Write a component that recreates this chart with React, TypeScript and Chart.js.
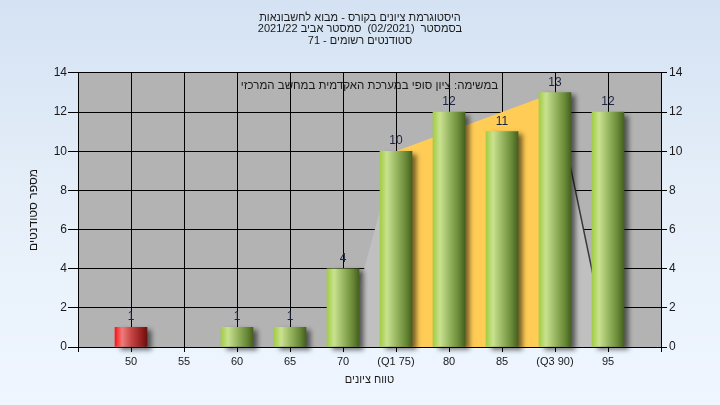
import { useEffect, useRef } from 'react';
import { Chart, registerables } from 'chart.js';

Chart.register(...registerables);

const FONT = "'Liberation Sans', Arial, sans-serif";

// categories (empty edge slots keep a half-interval margin like the original)
const categories = ['', '50', '55', '60', '65', '70', '(Q1 75)', '80', '85', '(Q3 90)', '95', ''];
const studentCounts: (number | null)[] = [null, 1, null, 1, 1, 4, 10, 12, 11, 13, 12, null];
const failingCategories = ['50'];
// spread shape: min (70) -> Q1 -> Q3 -> max (95)
const spreadShape: (number | null)[] = [null, null, null, null, null, 0, 10, null, null, 13, 0, null];
const quartileBand: (number | null)[] = [null, null, null, null, null, null, 10, null, null, 13, null, null];

const yMin = 0;
const yMax = 14;
const yStep = 2;

const titleLines = [
  'היסטוגרמת ציונים בקורס - מבוא לחשבונאות',
  'בסמסטר  (02/2021)  סמסטר אביב 2021/22',
  'סטודנטים רשומים - 71',
];
const noteText = 'במשימה: ציון סופי במערכת האקדמית במחשב המרכזי';
const yTitle = 'מספר סטודנטים';
const xTitle = 'טווח ציונים';

export default function App() {
  const ref = useRef<HTMLCanvasElement | null>(null);

  useEffect(() => {
    document.body.style.margin = '0';
    const canvas = ref.current;
    if (!canvas) return;

    const barGradient = (ctx: any) => {
      const chart = ctx.chart;
      const i = ctx.dataIndex;
      const fail = failingCategories.includes(categories[i]);
      if (!chart.chartArea) return fail ? '#e02020' : '#88b040';
      const x = chart.scales.x.getPixelForValue(i);
      const g = chart.ctx.createLinearGradient(x - 16, 0, x + 16, 0);
      if (fail) {
        g.addColorStop(0, '#ff1414');
        g.addColorStop(0.22, '#f07c7c');
        g.addColorStop(0.5, '#c84646');
        g.addColorStop(0.8, '#982222');
        g.addColorStop(1, '#6a1010');
      } else {
        g.addColorStop(0, '#a2cd44');
        g.addColorStop(0.22, '#c9e290');
        g.addColorStop(0.5, '#9ab863');
        g.addColorStop(0.8, '#6a8a38');
        g.addColorStop(1, '#45601f');
      }
      return g;
    };

    const plotBg = {
      id: 'plotBg',
      beforeDraw(chart: any) {
        const { ctx, chartArea: a } = chart;
        ctx.save();
        ctx.fillStyle = '#b3b3b3';
        ctx.fillRect(a.left, a.top, a.right - a.left, a.bottom - a.top);
        ctx.restore();
      },
    };

    const barShadow = {
      id: 'barShadow',
      beforeDatasetDraw(chart: any, args: any) {
        if (args.meta.type !== 'bar') return;
        const ctx = chart.ctx;
        ctx.save();
        ctx.shadowColor = 'rgba(0,0,0,0.55)';
        ctx.shadowOffsetX = 5;
        ctx.shadowOffsetY = 3;
        ctx.shadowBlur = 5;
      },
      afterDatasetDraw(chart: any, args: any) {
        if (args.meta.type !== 'bar') return;
        chart.ctx.restore();
      },
    };

    const labelsPlugin = {
      id: 'valueLabels',
      afterDatasetsDraw(chart: any) {
        const { ctx, chartArea: a } = chart;
        const meta = chart.getDatasetMeta(0);
        ctx.save();
        ctx.font = `12px ${FONT}`;
        ctx.fillStyle = '#1c2440';
        ctx.textAlign = 'center';
        ctx.textBaseline = 'alphabetic';
        meta.data.forEach((el: any, i: number) => {
          const v = studentCounts[i];
          if (v == null) return;
          ctx.fillText(String(v), el.x, el.y - 7);
        });
        ctx.font = `11.5px ${FONT}`;
        ctx.fillStyle = '#1a1a1a';
        ctx.textBaseline = 'middle';
        ctx.fillText(noteText, (a.left + a.right) / 2, a.top + 13);
        ctx.restore();
      },
    };

    const chart = new Chart(canvas, {
      type: 'bar',
      data: {
        labels: categories,
        datasets: [
          {
            type: 'bar',
            data: studentCounts,
            backgroundColor: barGradient,
            borderWidth: 0,
            barThickness: 32,
            clip: false,
            order: 0,
          } as any,
          {
            type: 'line',
            data: quartileBand,
            spanGaps: true,
            borderColor: 'transparent',
            borderWidth: 0,
            pointRadius: 0,
            backgroundColor: '#ffcc55',
            fill: 'origin',
            tension: 0,
            order: 1,
          } as any,
          {
            type: 'line',
            data: spreadShape,
            spanGaps: true,
            borderColor: 'transparent',
            borderWidth: 1.5,
            pointRadius: 0,
            backgroundColor: '#c0c0c0',
            fill: 'origin',
            tension: 0,
            order: 2,
            segment: {
              borderColor: (c: any) => (c.p1DataIndex === 10 ? '#3a3a3a' : 'transparent'),
            },
          } as any,
        ],
      },
      options: {
        animation: false,
        responsive: false,
        maintainAspectRatio: false,
        layout: { padding: 0 },
        plugins: {
          legend: { display: false },
          tooltip: { enabled: false },
          title: {
            display: true,
            text: titleLines,
            color: '#1a1a1a',
            font: { family: FONT, size: 11, weight: 'normal', lineHeight: 1.06 },
            padding: { top: 11.7, bottom: 26.3 },
          },
        },
        scales: {
          x: {
            type: 'category',
            offset: false,
            grid: {
              offset: false,
              color: '#000',
              lineWidth: 1,
              drawTicks: true,
              tickLength: 5,
              tickColor: '#000',
            },
            border: { color: '#000', width: 1 },
            ticks: {
              color: '#1a1a1a',
              font: { family: FONT, size: 11 },
              padding: 3,
              autoSkip: false,
              maxRotation: 0,
            },
            title: {
              display: true,
              text: xTitle,
              color: '#1a1a1a',
              font: { family: FONT, size: 11 },
              padding: { top: 0, bottom: 18.4 },
            },
            afterFit(scale: any) {
              scale.height = 58;
            },
          },
          y: {
            type: 'linear',
            position: 'left',
            min: yMin,
            max: yMax,
            grid: {
              color: '#000',
              lineWidth: 1,
              drawTicks: true,
              tickLength: 10,
              tickColor: '#000',
            },
            border: { color: '#000', width: 1 },
            ticks: {
              stepSize: yStep,
              color: '#1a1a1a',
              font: { family: FONT, size: 12 },
              padding: 1,
            },
            title: {
              display: true,
              text: yTitle,
              color: '#1a1a1a',
              font: { family: FONT, size: 12 },
              padding: { top: 26.8, bottom: 0 },
            },
            afterFit(scale: any) {
              scale.width = 78;
            },
          },
          y2: {
            type: 'linear',
            position: 'right',
            min: yMin,
            max: yMax,
            grid: {
              drawOnChartArea: false,
              drawTicks: true,
              tickLength: 6,
              tickColor: '#000',
              color: '#000',
            },
            border: { color: '#000', width: 1 },
            ticks: {
              stepSize: yStep,
              color: '#1a1a1a',
              font: { family: FONT, size: 12 },
              padding: 2,
            },
            afterFit(scale: any) {
              scale.width = 59;
            },
          },
        },
      } as any,
      plugins: [plotBg, barShadow, labelsPlugin],
    });

    return () => chart.destroy();
  }, []);

  return (
    <div
      style={{
        width: 720,
        height: 405,
        background: 'linear-gradient(180deg, #d4e2f3 0%, #e6eff9 50%, #eff6ff 100%)',
      }}
    >
      <canvas ref={ref} width={720} height={405} dir="rtl" style={{ display: 'block', direction: 'rtl' }} />
    </div>
  );
}
